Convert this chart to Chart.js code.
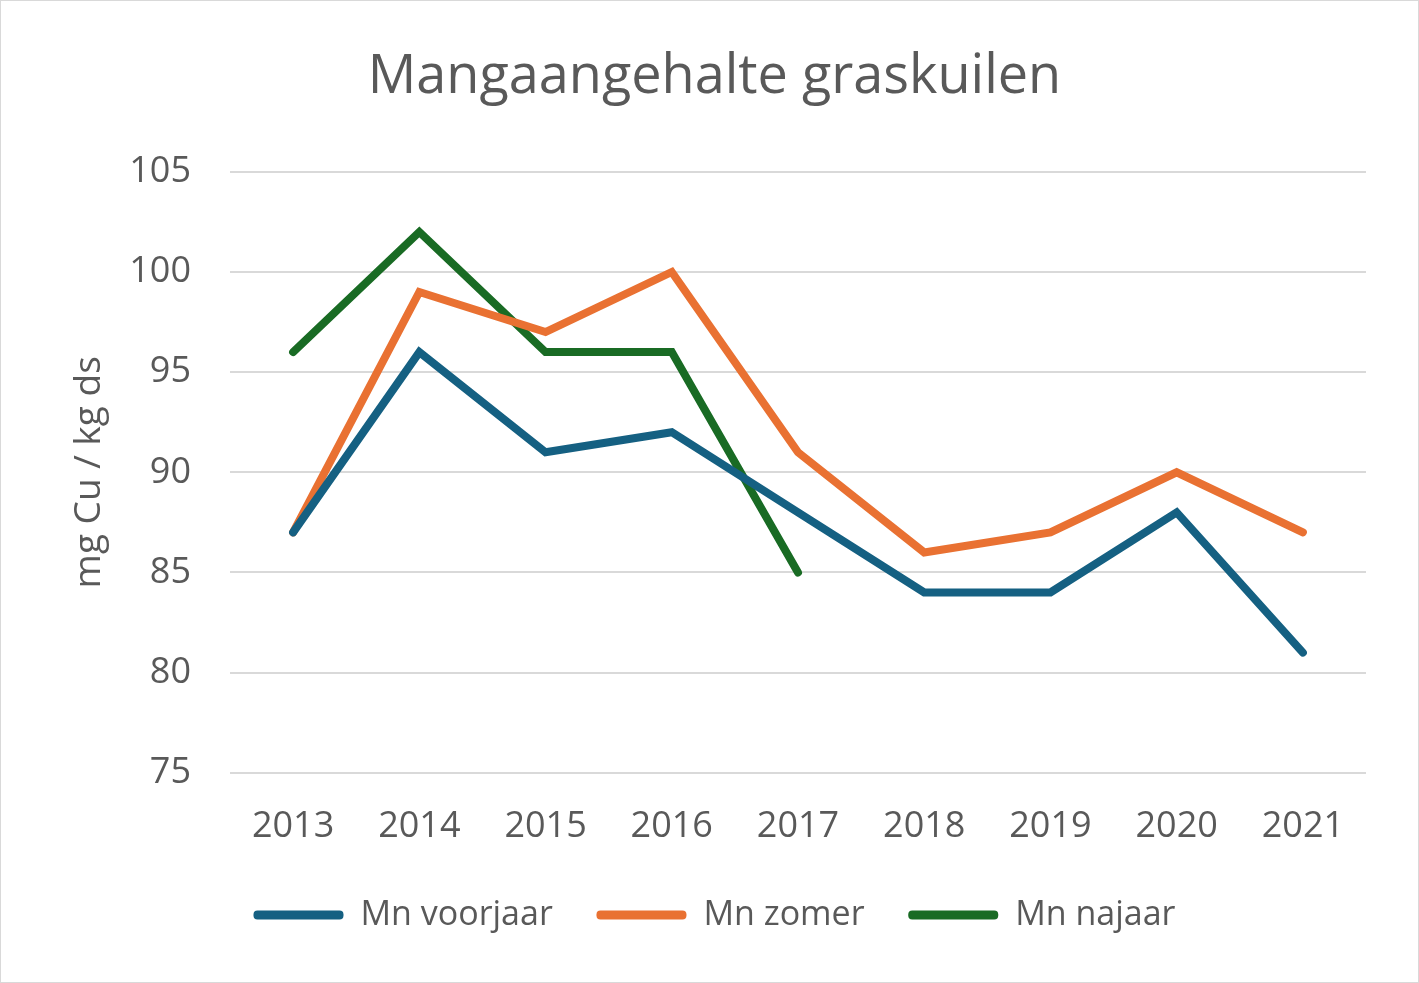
<!DOCTYPE html>
<html>
<head>
<meta charset="utf-8">
<script src="https://cdn.jsdelivr.net/npm/chart.js@4"></script>
<style>
  html, body { margin: 0; padding: 0; background: #fff; }
  #wrap { width: 1417px; height: 981px; border: 1px solid #d9d9d9; position: relative; }
</style>
</head>
<body>
<div id="wrap"><canvas id="chart"></canvas></div>
<script>
const years = ['2013', '2014', '2015', '2016', '2017', '2018', '2019', '2020', '2021'];
const voorjaar = [87, 96, 91, 92, 88, 84, 84, 88, 81];
const zomer = [87, 99, 97, 100, 91, 86, 87, 90, 87];
const najaar = [96, 102, 96, 96, 85, null, null, null, null];
const yTicks = [75, 80, 85, 90, 95, 100, 105];

const textColor = '#595959';
const font = '"Open Sans", "Noto Sans", sans-serif';

const line = (label, data, color) => ({
    label,
    data,
    borderColor: color,
    backgroundColor: color,
    borderWidth: 8,
    pointRadius: 0,
    tension: 0,
    borderCapStyle: 'round',
    borderJoinStyle: 'miter',
    spanGaps: false
});

new Chart(document.getElementById('chart'), {
    type: 'line',
    data: {
        labels: years,
        datasets: [
            line('Mn voorjaar', voorjaar, '#156082'),
            line('Mn zomer', zomer, '#E97132'),
            line('Mn najaar', najaar, '#196B24')
        ]
    },
    options: {
        responsive: true,
        maintainAspectRatio: false,
        animation: false,
        layout: { padding: { left: 62, right: 52, top: 44, bottom: 40 } },
        scales: {
            x: {
                offset: true,
                grid: { display: false },
                border: { display: false },
                ticks: { color: textColor, font: { family: font, size: 36 }, padding: 24 }
            },
            y: {
                min: 75,
                max: 105,
                afterBuildTicks: (axis) => { axis.ticks = yTicks.map(v => ({ value: v })); },
                afterFit: (axis) => { axis.width = 229 - 62; },
                grid: { color: '#d9d9d9', lineWidth: 2, drawTicks: false },
                border: { display: false },
                ticks: { color: textColor, font: { family: font, size: 36 }, padding: 39 },
                title: {
                    display: true,
                    text: 'mg Cu / kg ds',
                    color: textColor,
                    font: { family: font, size: 37 },
                    padding: { bottom: 8 }
                }
            }
        },
        plugins: {
            title: {
                display: true,
                text: 'Mangaangehalte graskuilen',
                color: textColor,
                font: { family: font, size: 54, weight: 'normal' },
                padding: { bottom: 62 }
            },
            legend: {
                position: 'bottom',
                labels: {
                    color: textColor,
                    font: { family: font, size: 34 },
                    boxWidth: 90,
                    boxHeight: 9,
                    useBorderRadius: true,
                    borderRadius: 4,
                    padding: 26,
                    generateLabels: (chart) => {
                        const items = Chart.defaults.plugins.legend.labels.generateLabels(chart);
                        items.forEach((it, i) => {
                            it.lineWidth = 0;
                            if (i < items.length - 1) it.text = it.text + '  ';
                        });
                        return items;
                    }
                }
            },
            tooltip: { enabled: false }
        }
    }
});
</script>
</body>
</html>
